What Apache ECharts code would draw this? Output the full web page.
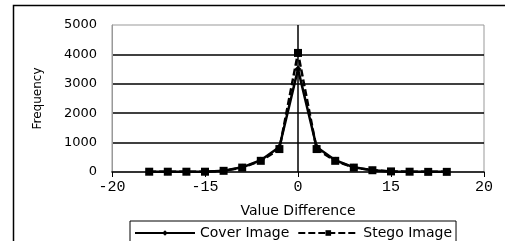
<!DOCTYPE html>
<html>
<head>
<meta charset="utf-8">
<script src="https://cdn.jsdelivr.net/npm/echarts@6/dist/echarts.min.js"></script>
<style>
html,body{margin:0;padding:0;background:#fff;}
#chart{width:505px;height:241px;}
</style>
</head>
<body>
<div id="chart"></div>
<script>
const xValues = [-16, -14, -12, -10, -8, -6, -4, -2, 0, 2, 4, 6, 8, 10, 12, 14, 16];
const coverImage = [10, 10, 10, 10, 45, 160, 400, 850, 3500, 850, 400, 160, 60, 20, 10, 5, 5];
const stegoImage = [10, 10, 10, 10, 40, 150, 380, 780, 4050, 780, 380, 150, 60, 20, 10, 5, 5];
const xTickLabels = ['-20', '-15', '0', '15', '20'];
const xTickValues = [-20, -10, 0, 10, 20];

const chart = echarts.init(document.getElementById('chart'));
const pairs = (ys) => xValues.map((x, i) => [x, ys[i]]);

chart.setOption({
  animation: false,
  backgroundColor: '#fff',
  graphic: [{
    type: 'rect', left: 11, top: 3, z: -1,
    shape: { width: 520, height: 260 },
    style: { fill: 'none', stroke: '#000', lineWidth: 1.5 }
  }],
  grid: {
    left: 112, right: 21, top: 25, bottom: 69,
    show: true, borderColor: '#999', borderWidth: 1, backgroundColor: 'transparent'
  },
  legend: {
    top: 221, left: 130,
    orient: 'horizontal',
    borderColor: '#000', borderWidth: 1,
    padding: [5, 4, 8, 4],
    itemWidth: 60, itemHeight: 7, itemGap: 8,
    textStyle: { fontFamily: 'DejaVu Sans', fontSize: 14, color: '#000' },
    data: ['Cover Image', 'Stego Image']
  },
  xAxis: {
    type: 'value', min: -20, max: 20, interval: 10,
    name: 'Value Difference', nameLocation: 'middle', nameGap: 32,
    nameTextStyle: { fontFamily: 'DejaVu Sans', fontSize: 14, color: '#000' },
    axisLine: { onZero: true, lineStyle: { color: '#000', width: 1.5 } },
    axisTick: { show: true, length: 5, lineStyle: { color: '#000' } },
    axisLabel: {
      margin: 8, fontFamily: 'Liberation Mono', fontSize: 15, color: '#000',
      formatter: (v) => { const i = xTickValues.indexOf(v); return i >= 0 ? xTickLabels[i] : ''; }
    },
    splitLine: { show: false }
  },
  yAxis: {
    type: 'value', min: 0, max: 5000, interval: 1000,
    name: 'Frequency', nameLocation: 'middle', nameGap: 68,
    nameTextStyle: { fontFamily: 'DejaVu Sans', fontSize: 12, color: '#000' },
    axisLine: { show: true, onZero: false, lineStyle: { color: '#999', width: 1 } },
    axisTick: { show: false },
    axisLabel: { margin: 15, fontFamily: 'DejaVu Sans', fontSize: 13, color: '#000', formatter: (v) => String(v) },
    splitLine: { show: true, showMinLine: false, showMaxLine: false, lineStyle: { color: '#000', width: 1.5 } }
  },
  series: [
    {
      name: 'Cover Image', type: 'line', data: pairs(coverImage),
      symbol: 'diamond', symbolSize: 7, showAllSymbol: true,
      lineStyle: { color: '#000', width: 2.5, type: 'solid' },
      itemStyle: { color: '#000' },
      markLine: {
        silent: true, symbol: 'none', label: { show: false },
        lineStyle: { color: '#000', width: 1.5, type: 'solid' },
        data: [{ xAxis: 0 }]
      },
      z: 3
    },
    {
      name: 'Stego Image', type: 'line', data: pairs(stegoImage),
      symbol: 'rect', symbolSize: 8, showAllSymbol: true,
      lineStyle: { color: '#000', width: 2.5, type: [7, 3] },
      itemStyle: { color: '#000' },
      z: 4
    }
  ]
});
</script>
</body>
</html>
